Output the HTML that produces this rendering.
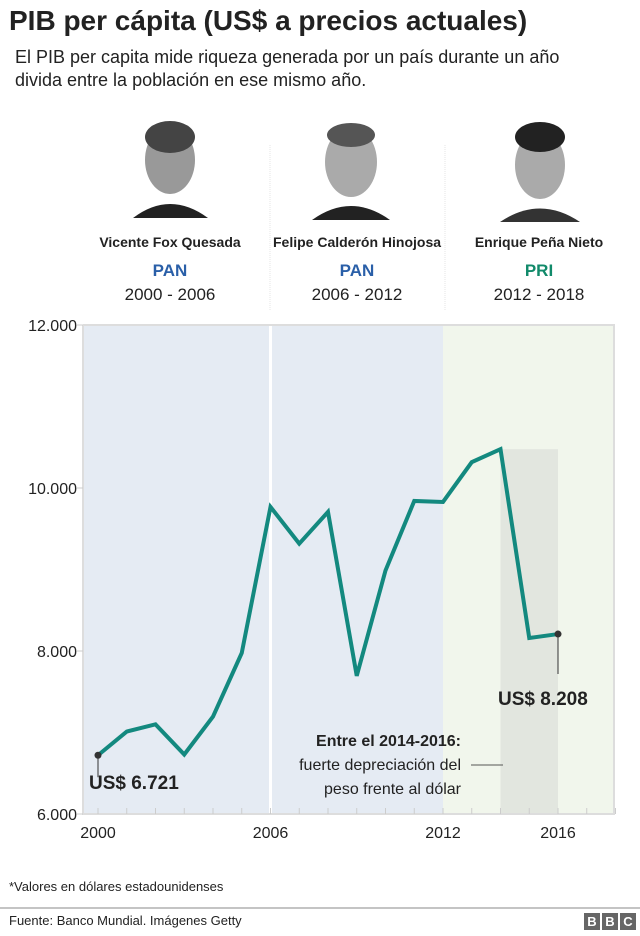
<!DOCTYPE html>
<html><head><meta charset="utf-8"><style>
body{margin:0;width:640px;height:936px;background:#fff;font-family:"Liberation Sans",sans-serif;overflow:hidden;position:relative}
.t{position:absolute;white-space:nowrap}
</style></head><body>
<div class="t" style="left:9px;top:5px;font-size:28px;font-weight:bold;color:#222">PIB per cápita (US$ a precios actuales)</div>
<div class="t" style="left:15px;top:46px;font-size:18px;line-height:23px;color:#222">El PIB per capita mide riqueza generada por un país durante un año<br>divida entre la población en ese mismo año.</div>
<svg width="640" height="936" style="position:absolute;left:0;top:0" id="svg">
<g font-family="Liberation Sans, sans-serif" text-anchor="middle">
 <line x1="270" y1="145" x2="270" y2="310" stroke="#e4e4e4" stroke-dasharray="1,1"/>
 <line x1="445" y1="145" x2="445" y2="310" stroke="#e4e4e4" stroke-dasharray="1,1"/>
 <g><path d="M133,218 Q170,190 208,218 Z" fill="#222"/><ellipse cx="170" cy="160" rx="25" ry="34" fill="#999"/><ellipse cx="170" cy="137" rx="25" ry="16" fill="#444"/></g>
 <g><path d="M312,220 Q351,192 390,220 Z" fill="#222"/><ellipse cx="351" cy="162" rx="26" ry="35" fill="#aaa"/><ellipse cx="351" cy="135" rx="24" ry="12" fill="#555"/></g>
 <g><path d="M500,222 Q540,195 580,222 Z" fill="#333"/><ellipse cx="540" cy="165" rx="25" ry="34" fill="#aaa"/><ellipse cx="540" cy="137" rx="25" ry="15" fill="#222"/></g>
 <text x="170" y="247" font-size="14" font-weight="bold" fill="#222">Vicente Fox Quesada</text>
 <text x="357" y="247" font-size="14" font-weight="bold" fill="#222">Felipe Calderón Hinojosa</text>
 <text x="539" y="247" font-size="14" font-weight="bold" fill="#222">Enrique Peña Nieto</text>
 <text x="170" y="276" font-size="17" font-weight="bold" fill="#2a5fa8">PAN</text>
 <text x="357" y="276" font-size="17" font-weight="bold" fill="#2a5fa8">PAN</text>
 <text x="539" y="276" font-size="17" font-weight="bold" fill="#118a6a">PRI</text>
 <text x="170" y="300" font-size="17" fill="#222">2000 - 2006</text>
 <text x="357" y="300" font-size="17" fill="#222">2006 - 2012</text>
 <text x="539" y="300" font-size="17" fill="#222">2012 - 2018</text>
</g>
<g id="chart" font-family="Liberation Sans, sans-serif"></g>
<line x1="0" y1="908" x2="640" y2="908" stroke="#888"/>
</svg>
<div class="t" style="left:9px;top:879px;font-size:13px;color:#222">*Valores en dólares estadounidenses</div>
<div class="t" style="left:9px;top:913px;font-size:13px;color:#222">Fuente: Banco Mundial. Imágenes Getty</div>
<div class="t" style="left:584px;top:913px;display:flex;gap:2px">
<span style="background:#666;color:#fff;font-weight:bold;font-size:13px;width:16px;height:17px;text-align:center;line-height:17px">B</span><span style="background:#666;color:#fff;font-weight:bold;font-size:13px;width:16px;height:17px;text-align:center;line-height:17px">B</span><span style="background:#666;color:#fff;font-weight:bold;font-size:13px;width:16px;height:17px;text-align:center;line-height:17px">C</span></div>
<script>
const years=[2000,2001,2002,2003,2004,2005,2006,2007,2008,2009,2010,2011,2012,2013,2014,2015,2016];
const gdp=[6721,7012,7100,6730,7195,7976,9768,9317,9707,7695,8988,9841,9829,10317,10476,8159,8208];
const yTicks=[6000,8000,10000,12000];
const yTickLabels=["6.000","8.000","10.000","12.000"];
const xTickLabels=[2000,2006,2012,2016];
const X=v=>98+(v-2000)*28.75;
const Y=v=>814-(v-6000)*0.0815;
const g=document.getElementById('chart');
const NS='http://www.w3.org/2000/svg';
function el(t,a,p){const e=document.createElementNS(NS,t);for(const k in a)e.setAttribute(k,a[k]);(p||g).appendChild(e);return e;}
const x0=83,x1=614,yT=Y(12000),yB=Y(6000);
let r=el('rect',{x:x0,y:yT,width:X(2012)-x0,height:yB-yT,fill:'#e5ebf3'});


r=el('rect',{x:X(2012),y:yT,width:x1-X(2012),height:yB-yT,fill:'#f1f6ec'});


r=el('rect',{x:X(2014),y:Y(10476),width:X(2016)-X(2014),height:yB-Y(10476),fill:'#e2e6df'});


r=el('line',{x1:X(2006),y1:yT,x2:X(2006),y2:yB,stroke:'#fff','stroke-width':3});


el('polyline',{points:`${x0},${yT} ${x1},${yT} ${x1},${yB} ${x0},${yB} ${x0},${yT}`,fill:'none',stroke:'#ddd','stroke-width':2});
for(let yr=2000;yr<=2018;yr++){el('line',{x1:X(yr),y1:yB,x2:X(yr),y2:yB-6,stroke:'#ccc'});}
yTicks.forEach((v,i)=>{
 el('line',{x1:x0-6,y1:Y(v),x2:x0,y2:Y(v),stroke:'#ccc'});
 const t=el('text',{x:x0-6,y:Y(v)+6,'text-anchor':'end','font-size':16,fill:'#222'});t.textContent=yTickLabels[i];
 
 
});
xTickLabels.forEach(v=>{
 const t=el('text',{x:X(v),y:yB+24,'text-anchor':'middle','font-size':16,fill:'#222'});t.textContent=v;
 
 
});
const line=el('polyline',{points:years.map((y,i)=>X(y)+','+Y(gdp[i])).join(' '),fill:'none',stroke:'#13897f','stroke-width':4,'stroke-linejoin':'miter'});


const i0=0,iN=years.length-1;
el('line',{x1:X(years[i0]),y1:Y(gdp[i0]),x2:X(years[i0]),y2:Y(gdp[i0])+22,stroke:'#333'});
let c=el('circle',{cx:X(years[i0]),cy:Y(gdp[i0]),r:3.5,fill:'#333'});


el('line',{x1:X(years[iN]),y1:Y(gdp[iN]),x2:X(years[iN]),y2:Y(gdp[iN])+40,stroke:'#333'});
c=el('circle',{cx:X(years[iN]),cy:Y(gdp[iN]),r:3.5,fill:'#333'});


let t=el('text',{x:89,y:Y(gdp[i0])+34,'font-size':19,'font-weight':'bold',fill:'#222'});t.textContent='US$ 6.721';


t=el('text',{x:498,y:Y(gdp[iN])+71,'font-size':19,'font-weight':'bold',fill:'#222'});t.textContent='US$ 8.208';


const a=el('g',{'text-anchor':'end','font-size':16,fill:'#222'});


let s=el('text',{x:461,y:746,'font-weight':'bold'},a);s.textContent='Entre el 2014-2016:';
s=el('text',{x:461,y:770},a);s.textContent='fuerte depreciación del';
s=el('text',{x:461,y:794},a);s.textContent='peso frente al dólar';
el('line',{x1:471,y1:765,x2:503,y2:765,stroke:'#555'});
</script>
</body></html>
